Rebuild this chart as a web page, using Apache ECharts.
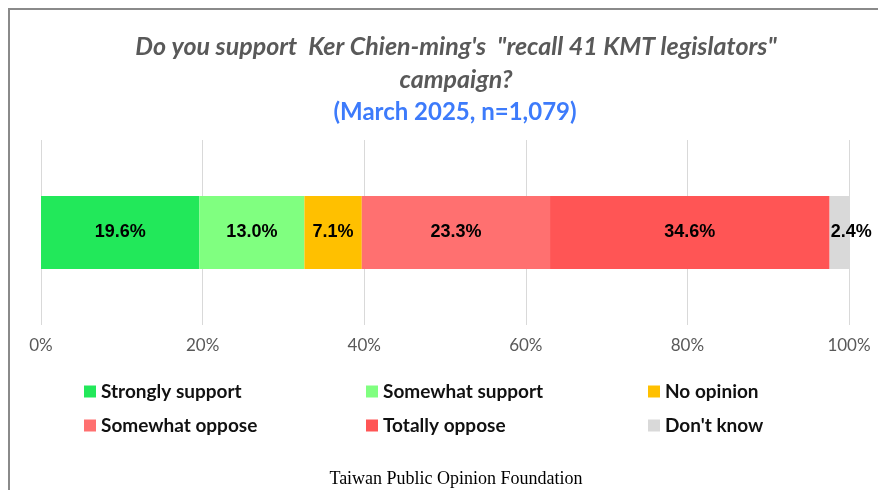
<!DOCTYPE html>
<html>
<head>
<meta charset="utf-8">
<script src="https://cdn.jsdelivr.net/npm/echarts@6/dist/echarts.min.js"></script>
<style>
  html, body { margin: 0; padding: 0; background: #fff; }
  #chart { width: 878px; height: 490px; }
</style>
</head>
<body>
<div id="chart"></div>
<script>
const categories = ['Support recall']
const seriesNames = ['Strongly support', 'Somewhat support', 'No opinion', 'Somewhat oppose', 'Totally oppose', "Don't know"]
const seriesValues = [19.6, 13.0, 7.1, 23.3, 34.6, 2.4]
const colors = ['#22E85A', '#80FF80', '#FFC000', '#FF7070', '#FF5555', '#D9D9D9']
const tickLabels = ['0%', '20%', '40%', '60%', '80%', '100%']

const chart = echarts.init(document.getElementById('chart'))

const series = seriesNames.map((name, i) => ({
  name: name,
  type: 'bar',
  stack: 'total',
  barWidth: 73,
  itemStyle: { color: colors[i] },
  label: {
    show: true,
    position: 'inside',
    offset: i === seriesNames.length - 1 ? [12, 0] : [0, 0],
    formatter: (p) => p.value.toFixed(1) + '%',
    color: '#000',
    fontFamily: 'Liberation Sans',
    fontWeight: 'bold',
    fontSize: 18
  },
  data: [seriesValues[i]]
}))

const legendText = {
  fontFamily: 'Lato',
  fontWeight: 'bold',
  fontSize: 19,
  color: '#111'
}

// three legend columns, two rows each
const legendCols = [79, 361, 643]
const legends = legendCols.map((x, c) => ({
  data: [seriesNames[c], seriesNames[c + 3]],
  left: x,
  top: 377,
  orient: 'vertical',
  icon: 'rect',
  itemWidth: 12,
  itemHeight: 12,
  itemGap: 15,
  selectedMode: false,
  textStyle: legendText
}))

const option = {
  animation: false,
  backgroundColor: '#fff',
  title: [
    {
      text: 'Do you support  Ker Chien-ming\'s  "recall 41 KMT legislators"\ncampaign?',
      left: 451,
      top: 25,
      textAlign: 'center',
      textStyle: {
        fontFamily: 'Lato',
        fontStyle: 'italic',
        fontWeight: 'bold',
        fontSize: 25,
        lineHeight: 33,
        color: '#595959'
      }
    },
    {
      text: '(March 2025, n=1,079)',
      left: 450,
      top: 95,
      textAlign: 'center',
      textStyle: {
        fontFamily: 'Lato',
        fontWeight: 'bold',
        fontSize: 24,
        color: '#3D7BFB'
      }
    },
    {
      text: 'Taiwan Public Opinion Foundation',
      left: 451,
      top: 465,
      textAlign: 'center',
      textStyle: {
        fontFamily: 'Liberation Serif',
        fontWeight: 'normal',
        fontSize: 18,
        color: '#000'
      }
    }
  ],
  legend: legends,
  grid: {
    left: 41,
    right: 29,
    top: 140,
    height: 185,
    containLabel: false
  },
  xAxis: {
    type: 'value',
    min: 0,
    max: 100,
    interval: 20,
    axisLine: { show: false },
    axisTick: { show: false },
    splitLine: { show: true, lineStyle: { color: '#D9D9D9', width: 1 } },
    axisLabel: {
      margin: 12,
      formatter: (v) => tickLabels[v / 20],
      fontFamily: 'Lato',
      fontSize: 17,
      color: '#595959'
    }
  },
  yAxis: {
    type: 'category',
    data: categories,
    axisLine: { show: false },
    axisTick: { show: false },
    axisLabel: { show: false }
  },
  graphic: [
    {
      type: 'rect',
      shape: { x: 9, y: 9, width: 900, height: 520 },
      style: { fill: 'none', stroke: '#8A8A8A', lineWidth: 2 },
      silent: true
    }
  ],
  series: series
}

chart.setOption(option)
window.addEventListener('resize', () => chart.resize())
</script>
</body>
</html>
